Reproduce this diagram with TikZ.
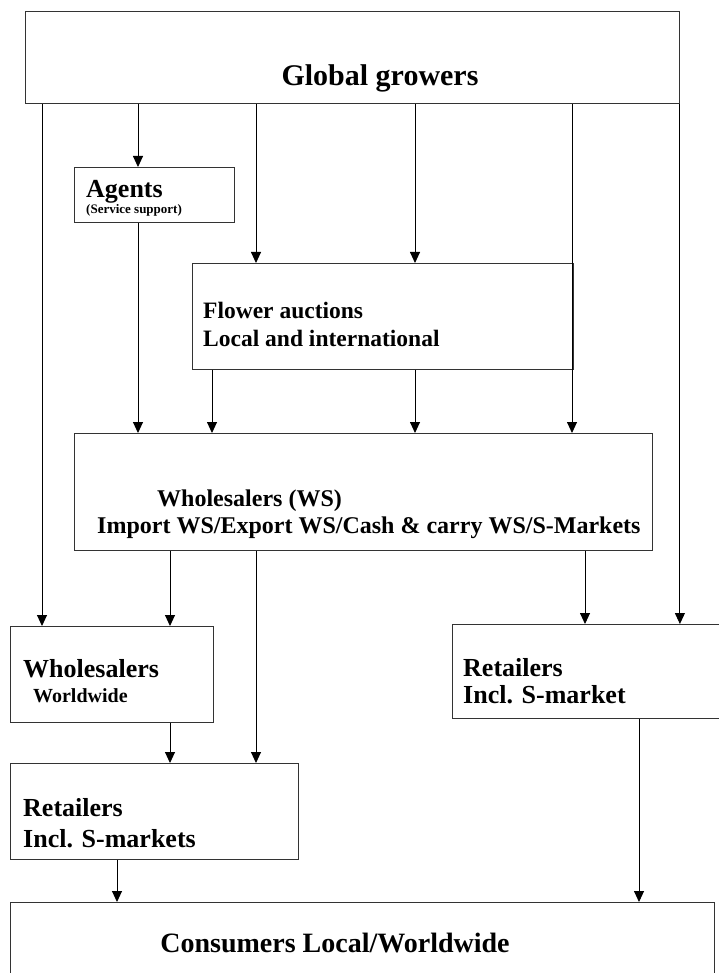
\documentclass[tikz,border=0pt]{standalone}
\usepackage{fontspec}
\setmainfont{Liberation Serif}
\usetikzlibrary{arrows.meta}

\tikzset{
  box/.style={draw=black!80, line width=0.9pt, anchor=north west, inner sep=0pt},
  lbl/.style={anchor=base west, inner sep=0pt},
  flow/.style={-{Triangle[length=11pt,width=10pt]}, line width=0.9pt},
}
\newcommand{\bsize}[1]{\fontsize{#1}{#1}\selectfont\bfseries}

\begin{document}
\begin{tikzpicture}[x=1pt,y=-1pt]
        \useasboundingbox (0,0) rectangle (719,973);
        \clip (0,0) rectangle (719,973);
        \node[box, minimum width=654pt, minimum height=92pt] (grow) at (25,11) {};
        \node[box, minimum width=160pt, minimum height=55pt] (agents) at (74,167) {};
        \node[box, minimum width=381pt, minimum height=106pt] (auct) at (192,263) {};
        \node[box, minimum width=578pt, minimum height=117pt] (ws) at (74,433) {};
        \node[box, minimum width=203pt, minimum height=96pt] (ww) at (10,626) {};
        \node[box, minimum width=288pt, minimum height=96pt] (retl) at (10,763) {};
        \node[box, minimum width=290pt, minimum height=94pt] (retr) at (452,624) {};
        \node[box, minimum width=704pt, minimum height=110pt] (cons) at (10,902) {};
        \node[anchor=base, inner sep=0pt] (grow-t) at (380,86) {\bsize{30}Global growers};
        \node[lbl] (agents-t) at (86,198) {\bsize{26}Agents};
        \node[lbl] (agents-s) at (86,214) {\bsize{13}(Service support)};
        \node[lbl] (auct-t) at (203,318) {\bsize{23.5}Flower auctions};
        \node[lbl] (auct-s) at (203,346) {\bsize{23.5}Local and international};
        \node[lbl] (ws-t) at (157,506) {\bsize{24}Wholesalers (WS)};
        \node[lbl] (ws-s) at (97,533) {\bsize{24}Import WS/Export WS/Cash \& carry WS/S-Markets};
        \node[lbl] (ww-t) at (23,677) {\bsize{26}Wholesalers};
        \node[lbl] (ww-s) at (33,702) {\bsize{20}Worldwide};
        \node[lbl] (retl-t) at (23,816) {\bsize{26}Retailers};
        \node[lbl] (retl-s) at (23,847) {\bsize{26}Incl. S-markets};
        \node[lbl] (retr-t) at (463,676) {\bsize{26}Retailers};
        \node[lbl] (retr-s) at (463,703) {\bsize{26}Incl. S-market};
        \node[anchor=base, inner sep=0pt] (cons-t) at (335,952) {\bsize{28}Consumers Local/Worldwide};
        \coordinate (xa) at (42,0);
        \coordinate (xb) at (138,0);
        \coordinate (xc) at (256,0);
        \coordinate (xd) at (415,0);
        \coordinate (xe) at (572,0);
        \coordinate (xf) at (212,0);
        \coordinate (xg) at (170,0);
        \coordinate (xh) at (585,0);
        \coordinate (xi) at (117,0);
        \coordinate (xj) at (639,0);
        \draw[flow] (grow.south -| xa) -- (ww.north -| xa);
        \draw[flow] (grow.south -| xb) -- (agents.north -| xb);
        \draw[flow] (grow.south -| xc) -- (auct.north -| xc);
        \draw[flow] (grow.south -| xd) -- (auct.north -| xd);
        \draw[flow] (grow.south -| xe) -- (ws.north -| xe);
        \draw[flow] (grow.south east) -- (retr.north -| grow.south east);
        \draw[flow] (agents.south -| xb) -- (ws.north -| xb);
        \draw[flow] (auct.south -| xf) -- (ws.north -| xf);
        \draw[flow] (auct.south -| xd) -- (ws.north -| xd);
        \draw[flow] (ws.south -| xg) -- (ww.north -| xg);
        \draw[flow] (ws.south -| xc) -- (retl.north -| xc);
        \draw[flow] (ws.south -| xh) -- (retr.north -| xh);
        \draw[flow] (ww.south -| xg) -- (retl.north -| xg);
        \draw[flow] (retl.south -| xi) -- (cons.north -| xi);
        \draw[flow] (retr.south -| xj) -- (cons.north -| xj);
    \end{tikzpicture}
\end{document}
